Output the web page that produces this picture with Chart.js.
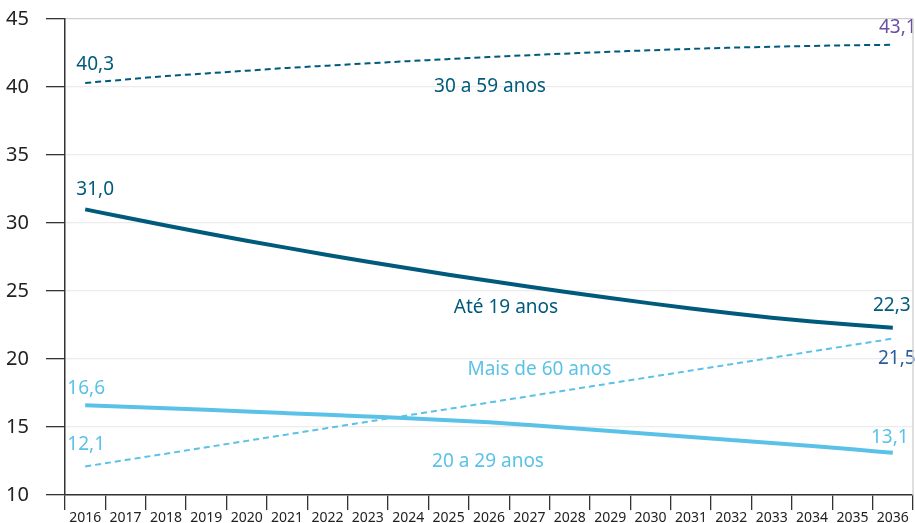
<!DOCTYPE html>
<html>
<head>
<meta charset="utf-8">
<script src="https://cdn.jsdelivr.net/npm/chart.js@4"></script>
<style>
  html, body { margin: 0; padding: 0; background: #fff; }
  #wrap { width: 915px; height: 523px; }
</style>
</head>
<body>
<div id="wrap"><canvas id="chart" width="915" height="523"></canvas></div>
<script>
const years = ["2016","2017","2018","2019","2020","2021","2022","2023","2024","2025","2026",
  "2027","2028","2029","2030","2031","2032","2033","2034","2035","2036"];

const age30to59 = [40.3, 40.55, 40.8, 41.0, 41.2, 41.4, 41.57, 41.74, 41.9, 42.05, 42.2,
  42.34, 42.47, 42.59, 42.7, 42.8, 42.89, 42.96, 43.02, 43.07, 43.1];
const ageUpTo19 = [31.0, 30.4, 29.82, 29.25, 28.7, 28.17, 27.65, 27.15, 26.67, 26.2, 25.75,
  25.31, 24.89, 24.48, 24.09, 23.72, 23.37, 23.04, 22.76, 22.51, 22.3];
const age20to29 = [16.6, 16.49, 16.38, 16.26, 16.14, 16.02, 15.9, 15.77, 15.64, 15.5, 15.35,
  15.15, 14.93, 14.71, 14.49, 14.27, 14.05, 13.83, 13.6, 13.36, 13.1];
const age60plus = [12.1, 12.57, 13.04, 13.51, 13.98, 14.45, 14.92, 15.39, 15.86, 16.33, 16.8,
  17.27, 17.74, 18.21, 18.68, 19.15, 19.62, 20.09, 20.56, 21.03, 21.5];

const yTicks = [10, 15, 20, 25, 30, 35, 40, 45];

const DARK = "#005a7c";
const LIGHT = "#5bc2e7";
const FONT = "'Noto Sans', 'Open Sans', sans-serif";

// text placed by data position: [label, yearIndex, value, dx, dy, color]
const notes = [
  ["40,3", 0, 40.3, 10, -18, DARK],
  ["31,0", 0, 31.0, 10, -20, DARK],
  ["16,6", 0, 16.6, 1, -17, LIGHT],
  ["12,1", 0, 12.1, 1, -22, LIGHT],
  ["43,1", 20, 43.1, 5, -17, "#6b4fa3"],
  ["22,3", 20, 22.3, -1, -22, DARK],
  ["21,5", 20, 21.5, 4, 20, "#2d5c9a"],
  ["13,1", 20, 13.1, -3, -15, LIGHT],
  ["30 a 59 anos", 10, 40.05, 1, 0, DARK],
  ["Até 19 anos", 10, 23.8, 17, 0, DARK],
  ["Mais de 60 anos", 11, 19.25, 10, 0, LIGHT],
  ["20 a 29 anos", 10, 12.45, -1, 0, LIGHT]
];

const labelsPlugin = {
  id: "labels",
  afterDatasetsDraw(chart) {
    const ctx = chart.ctx;
    const x = chart.scales.x, y = chart.scales.y;
    ctx.save();
    ctx.font = "19px " + FONT;
    ctx.textAlign = "center";
    ctx.textBaseline = "middle";
    notes.forEach(n => {
      ctx.fillStyle = n[5];
      ctx.fillText(n[0], x.getPixelForValue(n[1]) + n[3], y.getPixelForValue(n[2]) + n[4]);
    });
    // right frame line
    const a = chart.chartArea;
    ctx.strokeStyle = "#d4d4d4";
    ctx.lineWidth = 1.5;
    ctx.beginPath();
    ctx.moveTo(a.right, a.top);
    ctx.lineTo(a.right, a.bottom);
    ctx.stroke();
    ctx.restore();
  }
};

new Chart(document.getElementById("chart"), {
  type: "line",
  data: {
    labels: years,
    datasets: [
      { label: "30 a 59 anos", data: age30to59, borderColor: DARK, borderWidth: 2, borderDash: [6, 4], cubicInterpolationMode: "monotone" },
      { label: "Até 19 anos", data: ageUpTo19, borderColor: DARK, borderWidth: 4, cubicInterpolationMode: "monotone" },
      { label: "Mais de 60 anos", data: age60plus, borderColor: LIGHT, borderWidth: 2, borderDash: [6, 4], cubicInterpolationMode: "monotone" },
      { label: "20 a 29 anos", data: age20to29, borderColor: LIGHT, borderWidth: 4, cubicInterpolationMode: "monotone" }
    ]
  },
  options: {
    responsive: false,
    animation: false,
    elements: { point: { radius: 0 } },
    layout: { padding: { top: 19, right: 2, left: 0, bottom: 0 } },
    plugins: { legend: { display: false }, tooltip: { enabled: false } },
    scales: {
      x: {
        offset: true,
        grid: { offset: true, drawOnChartArea: false, tickColor: "#333", tickLength: 15, lineWidth: 1.3 },
        border: { color: "#333", width: 1.5 },
        ticks: { color: "#222", font: { family: FONT, size: 14 }, padding: 0, maxRotation: 0, autoSkip: false },
        afterFit: s => { s.height = 28; s.paddingLeft = 0; s.paddingRight = 0; }
      },
      y: {
        min: 10,
        max: 45,
        afterBuildTicks: s => { s.ticks = yTicks.map(v => ({ value: v })); },
        grid: {
          color: c => c.tick && c.tick.value === 45 ? "#cfcfcf" : "#ececec",
          tickColor: "#333",
          tickLength: 19,
          lineWidth: 1.3
        },
        border: { color: "#333", width: 1.5 },
        ticks: { color: "#222", font: { family: FONT, size: 20 }, padding: 17 },
        afterFit: s => { s.width = 65; s.paddingTop = 0; s.paddingBottom = 0; }
      }
    }
  },
  plugins: [labelsPlugin]
});
</script>
</body>
</html>
